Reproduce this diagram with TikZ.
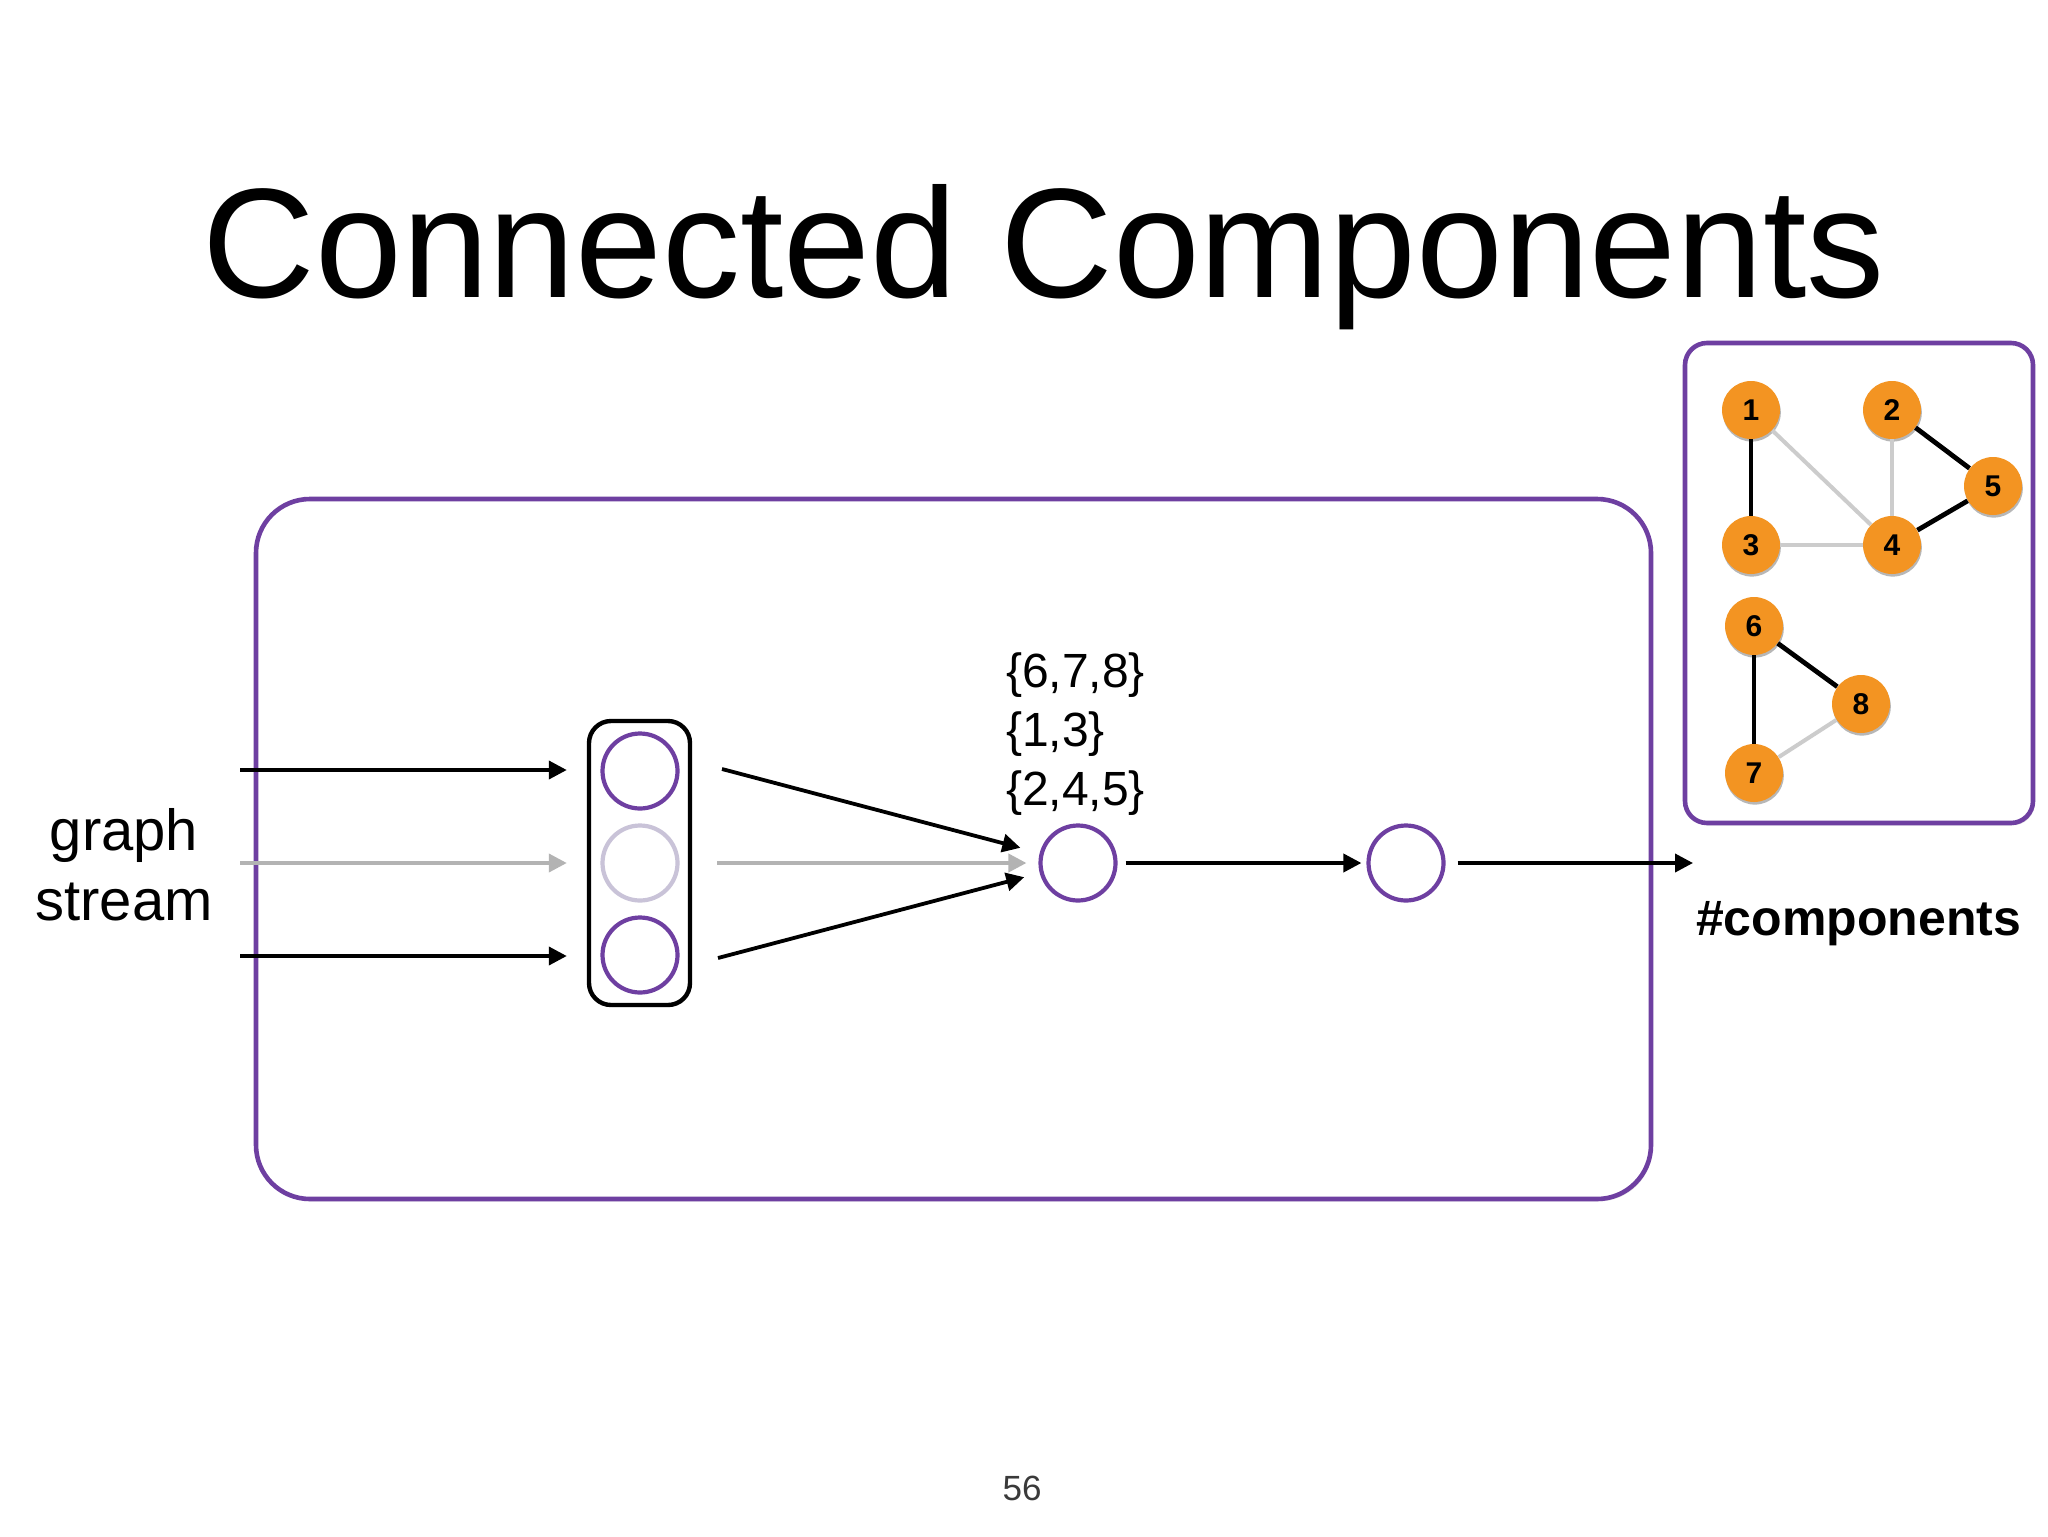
\documentclass[tikz,border=0pt]{standalone}
\usepackage{fontspec}
\setmainfont{Liberation Sans}
\usetikzlibrary{arrows.meta,shadows}
\definecolor{purp}{HTML}{6E3FA1}
\definecolor{orng}{HTML}{F39422}
\definecolor{lgray}{HTML}{B3B3B3}
\definecolor{egray}{HTML}{CCCCCC}
\definecolor{pale}{HTML}{C9C3D8}
\definecolor{pnum}{HTML}{3A3A3A}
\begin{document}
\begin{tikzpicture}[x=0.5pt,y=-0.5pt,
  opnode/.style={circle, draw=purp, line width=2.1pt, minimum size=37.5pt, inner sep=0pt},
  palenode/.style={opnode, draw=pale},
  vnode/.style={circle, fill=orng, minimum size=29pt, inner sep=0pt,
    font=\fontsize{15}{16}\selectfont\bfseries,
    drop shadow={shadow xshift=0.4pt, shadow yshift=-1.3pt, opacity=0.4, fill=black!70}},
  frame/.style={draw=purp, line width=2.3pt, inner sep=0pt,
    drop shadow={shadow xshift=0.8pt, shadow yshift=-1.2pt, opacity=0.18, fill=black!60}},
  arr/.style={-{Triangle[length=9pt,width=9pt]}, line width=1.9pt},
  grayarr/.style={arr, draw=lgray, -{Triangle[length=9pt,width=9pt,fill=lgray]}},
  bedge/.style={line width=2.4pt, black},
  gedge/.style={line width=2pt, egray},
  txt/.style={inner sep=0pt, outer sep=0pt}
]
\useasboundingbox[fill=white] (0,0) rectangle (2048,1536);

% title
\node[txt, anchor=base, font=\fontsize{78}{90}\selectfont] (title) at (1044,297) {Connected Components};

% main frame
\node[frame, rounded corners=27pt, minimum width=697.5pt, minimum height=350pt, fill=white] (main) at (953.5,849) {};

% graph panel
\node[frame, rounded corners=11pt, minimum width=174pt, minimum height=240pt, fill=white] (panel) at (1859,583) {};

% container of sources
\node[draw=black, line width=2.2pt, rounded corners=11pt, minimum width=50.5pt, minimum height=142pt, inner sep=0pt, fill=white,
  drop shadow={shadow xshift=0.6pt, shadow yshift=-1pt, opacity=0.2, fill=black!60}] (cont) at (639.5,863) {};
\node[opnode] (c1) at (640,771) {};
\node[palenode] (c2) at (640,863) {};
\node[opnode] (c3) at (640,955) {};

% operator nodes
\node[opnode] (A) at (1078,863) {};
\node[opnode] (B) at (1406,863) {};

% graph stream label
\node[txt, anchor=base, font=\fontsize{29}{35}\selectfont] (gs) at (124,850)
  {\begin{tabular}[t]{@{}c@{}}graph\\stream\end{tabular}};

% input arrows
\coordinate (s1) at (240,770);
\coordinate (s2) at (240,863);
\coordinate (s3) at (240,956);
\draw[arr, shorten >=16.8pt] (s1) -- (c1.west |- s1);
\draw[grayarr, shorten >=16.8pt] (s2) -- (c2.west);
\draw[arr, shorten >=16.8pt] (s3) -- (c3.west |- s3);

% arrows to A
\coordinate (o1) at (722,769);
\coordinate (o2) at (717,863);
\coordinate (o3) at (718,958);
\draw[arr, shorten >=10pt] (o1) -- (A);
\draw[grayarr, shorten >=6pt] (o2) -- (A);
\draw[arr, shorten >=8pt] (o3) -- (A);

% A -> B -> output
\draw[arr, shorten <=4pt, shorten >=2.5pt] (A) -- (B);
\coordinate (out) at (1693,863);
\draw[arr, shorten <=6pt] (B) -- (out);

% sets label
\node[txt, anchor=base west, font=\fontsize{24}{29.5}\selectfont] (sets) at (1006,687)
  {\begin{tabular}[t]{@{}l@{}}\{6,7,8\}\\\{1,3\}\\\{2,4,5\}\end{tabular}};

% #components
\node[txt, anchor=base west, font=\fontsize{25}{28}\selectfont\bfseries] (ncomp) at (1696,935) {\#components};

% graph nodes
\node[vnode] (n1) at (1751,410) {1};
\node[vnode] (n2) at (1892,410) {2};
\node[vnode] (n5) at (1993,486) {5};
\node[vnode] (n3) at (1751,545) {3};
\node[vnode] (n4) at (1892,545) {4};
\node[vnode] (n6) at (1754,626) {6};
\node[vnode] (n8) at (1861,704) {8};
\node[vnode] (n7) at (1754,773) {7};
\draw[bedge] (n1) -- (n3);
\draw[gedge] (n1) -- (n4);
\draw[gedge] (n3) -- (n4);
\draw[gedge] (n2) -- (n4);
\draw[bedge] (n2) -- (n5);
\draw[bedge] (n5) -- (n4);
\draw[bedge] (n6) -- (n8);
\draw[bedge] (n6) -- (n7);
\draw[gedge] (n7) -- (n8);

% page number
\node[txt, anchor=base, text=pnum, font=\fontsize{17.5}{20}\selectfont] (pg) at (1022,1500) {56};
\end{tikzpicture}
\end{document}
